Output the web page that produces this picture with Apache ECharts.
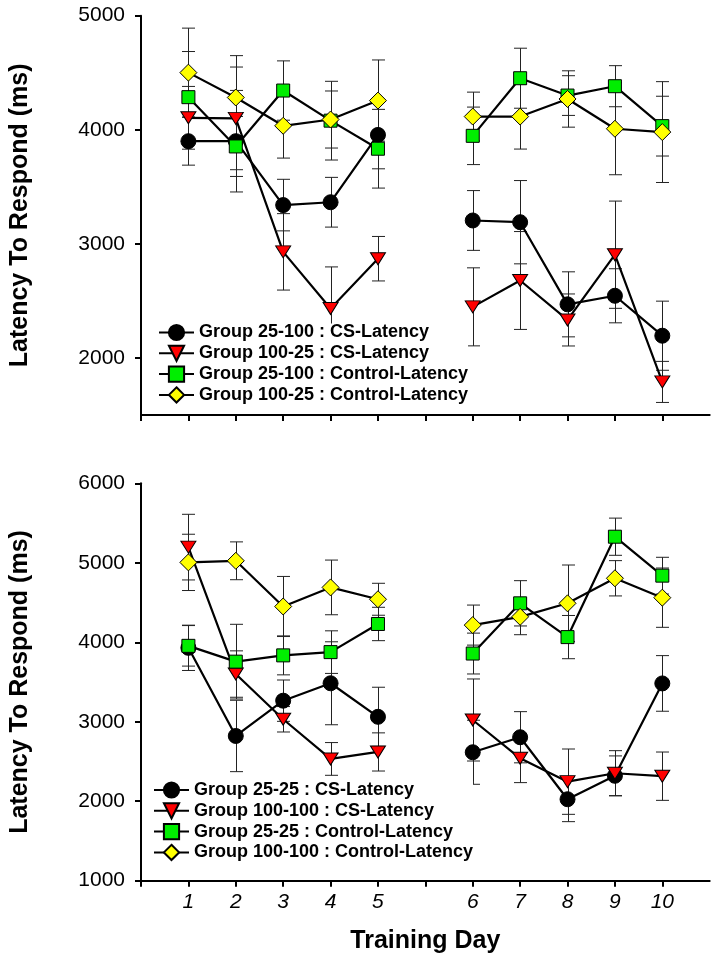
<!DOCTYPE html>
<html><head><meta charset="utf-8">
<script src="https://cdn.jsdelivr.net/npm/echarts@6/dist/echarts.min.js"></script>
<style>html,body{margin:0;padding:0;background:#fff}#c{width:721px;height:966px}</style>
</head><body><div id="c"></div>
<script>
// ---------- data ----------
const days = [1, 2, 3, 4, 5, 6, 7, 8, 9, 10];
const dayLabels = ['1', '2', '3', '4', '5', '6', '7', '8', '9', '10'];
const topYTicks = [2000, 3000, 4000, 5000];
const bottomYTicks = [1000, 2000, 3000, 4000, 5000, 6000];

const topNames = ['Group 25-100 : CS-Latency', 'Group 100-25 : CS-Latency',
                  'Group 25-100 : Control-Latency', 'Group 100-25 : Control-Latency'];
const bottomNames = ['Group 25-25 : CS-Latency', 'Group 100-100 : CS-Latency',
                     'Group 25-25 : Control-Latency', 'Group 100-100 : Control-Latency'];

// top panel
const topCS25_100      = [3900, 3900, 3340, 3365, 3955, 3205, 3190, 2470, 2545, 2195];
const topCS25_100Err   = [210, 445, 226, 218, 297, 262, 365, 285, 237, 303];
const topCS100_25      = [4105, 4100, 2930, 2434, 2870, 2448, 2679, 2333, 2905, 1790];
const topCS100_25Err   = [275, 450, 335, 364, 195, 342, 429, 228, 470, 180];
const topCtl25_100     = [4286, 3854, 4344, 4080, 3834, 3947, 4452, 4300, 4382, 4032];
const topCtl25_100Err  = [400, 263, 260, 345, 345, 252, 263, 174, 180, 262];
const topCtl100_25     = [4501, 4283, 4035, 4090, 4256, 4116, 4116, 4270, 4009, 3980];
const topCtl100_25Err  = [390, 367, 283, 250, 356, 214, 285, 247, 403, 442];

// bottom panel
const botCS25_25       = [3930, 2821, 3265, 3484, 3062, 2616, 2805, 2025, 2320, 3482];
const botCS25_25Err    = [285, 449, 260, 522, 372, 403, 322, 282, 250, 350];
const botCS100_100     = [5197, 3600, 3031, 2532, 2620, 3022, 2540, 2246, 2352, 2315];
const botCS100_100Err  = [413, 292, 160, 206, 240, 516, 306, 411, 284, 304];
const botCtl25_25      = [3955, 3756, 3835, 3876, 4230, 3858, 4490, 4065, 5328, 4838];
const botCtl25_25Err   = [255, 470, 245, 268, 210, 257, 285, 272, 234, 231];
const botCtl100_100    = [5005, 5025, 4450, 4690, 4541, 4216, 4320, 4490, 4805, 4561];
const botCtl100_100Err = [354, 238, 378, 344, 201, 252, 225, 482, 222, 373];

// ---------- layout helpers ----------
const FONT = '"Liberation Sans", Arial, sans-serif';
// day 1-5 at axis positions 1-5, a gap, then days 6-10 at 7-11
const dayPos = d => (d <= 5 ? d : d + 1);
const gapPos = 6;

function lineData(vals) {
  const out = [];
  days.forEach((d, i) => {
    out.push([dayPos(d), vals[i]]);
    if (d === 5) out.push([gapPos, '-']);
  });
  return out;
}
function errData(vals, errs) {
  return days.map((d, i) => [dayPos(d), vals[i] - errs[i], vals[i] + errs[i]]);
}

const styles = [
  { symbol: 'circle', symbolSize: 15, color: '#000000', rotate: 0 },
  { symbol: 'triangle', symbolSize: [15, 12], color: '#ff0000', rotate: 180 },
  { symbol: 'rect', symbolSize: 13, color: '#00ee00', rotate: 0 },
  { symbol: 'diamond', symbolSize: 17, color: '#ffff00', rotate: 0 }
];

function errRender(params, api) {
  const x = api.value(0), lo = api.value(1), hi = api.value(2);
  const p1 = api.coord([x, lo]), p2 = api.coord([x, hi]);
  const hw = 6.5;
  const st = { stroke: '#222', lineWidth: 1, fill: null };
  const cx = Math.round(p1[0]) + 0.5;
  return {
    type: 'group', children: [
      { type: 'line', shape: { x1: cx, y1: p1[1], x2: cx, y2: p2[1] }, style: st },
      { type: 'line', shape: { x1: cx - hw, y1: p1[1], x2: cx + hw, y2: p1[1] }, style: st },
      { type: 'line', shape: { x1: cx - hw, y1: p2[1], x2: cx + hw, y2: p2[1] }, style: st }
    ]
  };
}

const panels = [
  { names: topNames, vals: [topCS25_100, topCS100_25, topCtl25_100, topCtl100_25],
    errs: [topCS25_100Err, topCS100_25Err, topCtl25_100Err, topCtl100_25Err] },
  { names: bottomNames, vals: [botCS25_25, botCS100_100, botCtl25_25, botCtl100_100],
    errs: [botCS25_25Err, botCS100_100Err, botCtl25_25Err, botCtl100_100Err] }
];

const series = [];
panels.forEach((p, pi) => {
  p.vals.forEach((v, si) => {
    series.push({
      type: 'custom', xAxisIndex: pi, yAxisIndex: pi, z: 1, silent: true,
      renderItem: errRender, data: errData(v, p.errs[si]), encode: { x: 0, y: [1, 2] }
    });
  });
  p.vals.forEach((v, si) => {
    const s = styles[si];
    series.push({
      type: 'line', name: p.names[si], xAxisIndex: pi, yAxisIndex: pi, z: 3,
      data: lineData(v), connectNulls: false,
      symbol: s.symbol, symbolSize: s.symbolSize, symbolRotate: s.rotate,
      showAllSymbol: true,
      lineStyle: { color: '#000', width: 2.2 },
      itemStyle: { color: s.color, borderColor: '#000', borderWidth: 1 },
      emphasis: { disabled: true }
    });
  });
});

const tickPositions = [0, 1, 2, 3, 4, 5, 6, 7, 8, 9, 10, 11];
const labelPositions = days.map(dayPos);

function xAxis(gi, showLabels) {
  const ax = {
    gridIndex: gi, type: 'value', min: 0, max: 12, interval: 1,
    axisLine: { onZero: false, lineStyle: { color: '#000', width: 2 } },
    axisTick: { show: true, length: 6, customValues: tickPositions, lineStyle: { color: '#000', width: 2 } },
    splitLine: { show: false },
    axisLabel: { show: false }
  };
  if (showLabels) {
    ax.axisLabel = {
      show: true, customValues: labelPositions, margin: 11,
      fontFamily: FONT, fontSize: 21, fontStyle: 'italic', color: '#000',
      formatter: v => { const i = labelPositions.indexOf(v); return i >= 0 ? dayLabels[i] : ''; }
    };
    ax.name = 'Training Day';
    ax.nameLocation = 'middle';
    ax.nameGap = 48;
    ax.nameTextStyle = { fontFamily: FONT, fontSize: 25, fontWeight: 'bold', color: '#000' };
  }
  return ax;
}
function yAxis(gi, min, max, ticks) {
  return {
    gridIndex: gi, type: 'value', min: min, max: max,
    axisLine: { show: true, onZero: false, lineStyle: { color: '#000', width: 2 } },
    axisTick: { show: true, length: 6, customValues: ticks, lineStyle: { color: '#000', width: 2 } },
    axisLabel: { customValues: ticks, margin: 16, fontFamily: FONT, fontSize: 21, color: '#000',
                 formatter: v => String(v) },
    splitLine: { show: false },
    name: 'Latency To Respond (ms)', nameLocation: 'middle', nameGap: 108,
    nameTextStyle: { fontFamily: FONT, fontSize: 25, fontWeight: 'bold', color: '#000' }
  };
}
function legend(names, left, top) {
  return {
    data: names, orient: 'vertical', left: left, top: top,
    itemWidth: 35, itemHeight: 19, itemGap: 2.8, padding: 0,
    backgroundColor: '#fff', selectedMode: false, z: 10,
    textStyle: { fontFamily: FONT, fontSize: 18, fontWeight: 'bold', color: '#000', lineHeight: 18 }
  };
}

const chart = echarts.init(document.getElementById('c'), null, { renderer: 'canvas' });
chart.setOption({
  animation: false,
  backgroundColor: '#fff',
  textStyle: { fontFamily: FONT },
  grid: [
    { left: 140.7, right: 11.3, top: 15.7, height: 399.3 },
    { left: 140.7, right: 11.3, top: 483.3, height: 397.4 }
  ],
  xAxis: [xAxis(0, false), xAxis(1, true)],
  yAxis: [yAxis(0, 1500, 5000, topYTicks), yAxis(1, 1000, 6000, bottomYTicks)],
  legend: [legend(topNames, 158, 323.5), legend(bottomNames, 153, 781)],
  series: series
});
</script></body></html>
